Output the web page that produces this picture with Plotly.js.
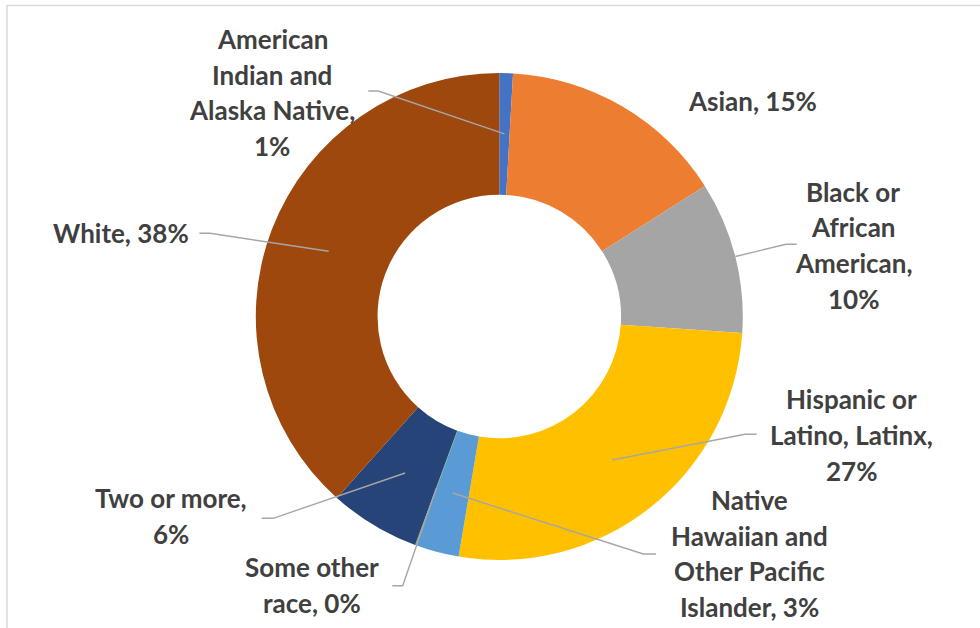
<!DOCTYPE html>
<html>
<head>
<meta charset="utf-8">
<script src="https://cdn.plot.ly/plotly-3.0.1.min.js"></script>
<style>
html,body{margin:0;padding:0;background:#fff;overflow:hidden;}
#chart{width:980px;height:628px;}
</style>
</head>
<body>
<div id="chart"></div>
<script>
// ---- data ----
const categories = ['American Indian and Alaska Native', 'Asian', 'Black or African American',
  'Hispanic or Latino, Latinx', 'Native Hawaiian and Other Pacific Islander',
  'Some other race', 'Two or more', 'White'];
const values = [0.9, 15.1, 10.1, 26.6, 2.9, 0.05, 6.0, 38.4];
const labelLines = [
  ['American', 'Indian and', 'Alaska Native,'],
  ['Asian,'],
  ['Black or', 'African', 'American,'],
  ['Hispanic or', 'Latino, Latinx,'],
  ['Native', 'Hawaiian and', 'Other Pacific', 'Islander,'],
  ['Some other', 'race,'],
  ['Two or more,'],
  ['White,']
];
const colors = ['#4472C4', '#ED7D31', '#A5A5A5', '#FFC000', '#5B9BD5', '#70AD47', '#264478', '#9E480E'];

// ---- layout of labels (pixel positions, figure coords) ----
const W = 980, H = 628;
const pieCx = 499.3, pieCy = 316.5, pieR = 243.5, holeFrac = 0.5;
const linePitch = 35.7;
const FONT = {family: 'Lato, "Open Sans", sans-serif', size: 26, color: '#404040', weight: 700};
const labelLayout = [
  {cx: 272,   base: 49,    pctOwnLine: true,  leader: [[368.3, 91], [378.3, 91]],       tip: 'mid'},
  {cx: 752,   base: 111,   pctOwnLine: false, leader: null,                              tip: 'mid'},
  {cx: 853,   base: 201.7, pctOwnLine: true,  leader: [[796.7, 244.3], [786, 244.3]],   tip: 'outer'},
  {cx: 851,   base: 409.3, pctOwnLine: true,  leader: [[756.7, 434.3], [745, 434.3]],   tip: 'mid'},
  {cx: 749,   base: 510,   pctOwnLine: false, leader: [[656, 554], [643.3, 554]],       tip: 'mid'},
  {cx: 312,   base: 577.3, pctOwnLine: false, leader: [[392.3, 585.7], [402.7, 585.7]], tip: 'mid'},
  {cx: 171,   base: 508.3, pctOwnLine: true,  leader: [[261.7, 518.3], [273.3, 518.3]], tip: 'mid'},
  {cx: 120.5, base: 242.7, pctOwnLine: false, leader: [[199.3, 233.3], [210, 233.3]],   tip: 'mid'}
];

const px = x => x / W;
const py = y => 1 - y / H;

const total = values.reduce((a, b) => a + b, 0);
const annotations = [];
const shapes = [];
let cum = 0;
values.forEach((v, i) => {
  const pct = Math.round(v / total * 100) + '%';
  const mid = (cum + v / 2) / total * 2 * Math.PI;
  cum += v;
  const L = labelLayout[i];
  const lines = labelLines[i].slice();
  if (L.pctOwnLine) lines.push(pct);
  else lines[lines.length - 1] = lines[lines.length - 1] + ' ' + pct;
  lines.forEach((t, k) => {
    const baseline = L.base + k * linePitch;
    annotations.push({
      xref: 'paper', yref: 'paper', x: px(L.cx), y: py(baseline - 0.387 * FONT.size),
      xanchor: 'center', yanchor: 'middle', showarrow: false, text: t, font: FONT
    });
  });
  if (L.leader) {
    const rTip = L.tip === 'outer' ? pieR : pieR * (1 + holeFrac) / 2;
    const tx = pieCx + rTip * Math.sin(mid);
    const ty = pieCy - rTip * Math.cos(mid);
    const pts = [L.leader[0], L.leader[1], [tx, ty]];
    const path = pts.map((p, k) => (k ? 'L' : 'M') + px(p[0]).toFixed(5) + ',' + py(p[1]).toFixed(5)).join(' ');
    shapes.push({type: 'path', xref: 'paper', yref: 'paper', path: path,
      line: {color: '#A6A6A6', width: 1.4}, layer: 'above'});
  }
});

// chart frame
shapes.push({type: 'rect', xref: 'paper', yref: 'paper',
  x0: px(7), x1: 1.05, y0: -0.05, y1: py(5.5),
  line: {color: '#D9D9D9', width: 1.5}, fillcolor: 'rgba(0,0,0,0)', layer: 'below'});

const trace = {
  type: 'pie',
  labels: categories,
  values: values,
  hole: holeFrac,
  sort: false,
  direction: 'clockwise',
  rotation: 0,
  textinfo: 'none',
  hoverinfo: 'label+percent',
  marker: {colors: colors, line: {color: '#FFFFFF', width: 0}},
  domain: {x: [px(pieCx - pieR), px(pieCx + pieR)], y: [py(pieCy + pieR), py(pieCy - pieR)]}
};

const layout = {
  width: W, height: H,
  margin: {l: 0, r: 0, t: 0, b: 0},
  showlegend: false,
  paper_bgcolor: '#FFFFFF',
  annotations: annotations,
  shapes: shapes
};

Plotly.newPlot('chart', [trace], layout, {displayModeBar: false, staticPlot: true});
</script>
</body>
</html>
